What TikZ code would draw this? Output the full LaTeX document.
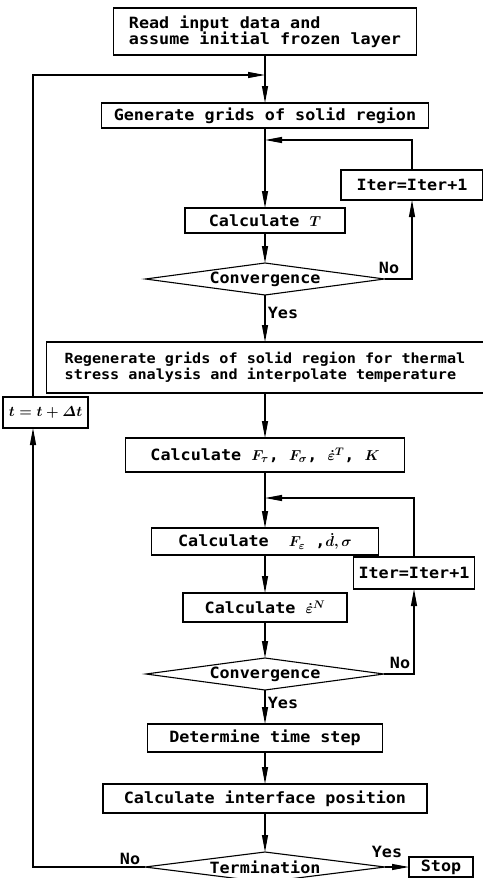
\documentclass[tikz,border=0pt]{standalone}
\usepackage{amsmath}
\usepackage{fontspec}
\setmonofont{DejaVu Sans Mono}[FakeStretch=1.08]
\usetikzlibrary{shapes.geometric, arrows.meta, positioning}

\begin{document}
\begin{tikzpicture}[x=1pt, y=-1pt,
    box/.style={rectangle, draw, line width=1.1pt, inner sep=3pt, outer sep=0pt, text centered, font=\ttfamily\bfseries\fontsize{15.5}{16}\selectfont\boldmath},
    test/.style={diamond, draw, line width=1.1pt, aspect=7.5, inner sep=0pt, outer sep=0pt, font=\ttfamily\bfseries\fontsize{15.5}{16}\selectfont},
    arrow/.style={-{Stealth[length=17pt, width=6pt, inset=0pt]}, line width=1.1pt},
    lbl/.style={font=\ttfamily\bfseries\fontsize{15.5}{16}\selectfont}
]
    \useasboundingbox (0,0) rectangle (482,878);

    % Main column
    \node[box, minimum width=303pt, minimum height=47pt, align=left] (read) at (265,31.5) {Read input data and\\assume initial frozen layer};
    \node[box, minimum width=327pt, minimum height=25pt, below=48pt of read] (grids) {Generate grids of solid region};
    \node[box, minimum width=160pt, minimum height=25pt, below=80pt of grids] (calcT) {Calculate $T$};
    \node[test, minimum width=239pt, minimum height=32pt, below=30pt of calcT] (conv1) {Convergence};
    \node[box, minimum width=437pt, minimum height=51pt, align=left, font=\ttfamily\bfseries\fontsize{14}{16}\selectfont, below=47pt of conv1] (regen) {Regenerate grids of solid region for thermal\\stress analysis and interpolate temperature};
    \node[box, minimum width=279pt, minimum height=34pt, below=45pt of regen] (calcF) {Calculate $F_\tau$, $F_\sigma$, $\dot\varepsilon^{T}$, $K$};
    \node[box, minimum width=227pt, minimum height=27pt, below=56pt of calcF] (calcFe) {Calculate \ $F_\varepsilon$ ,$\dot d,\sigma$};
    \node[box, minimum width=164pt, minimum height=29pt, below=38pt of calcFe] (calcEn) {Calculate $\dot\varepsilon^{N}$};
    \node[test, minimum width=238pt, minimum height=32pt, below=36pt of calcEn] (conv2) {Convergence};
    \node[box, minimum width=235pt, minimum height=28pt, below=34pt of conv2] (tstep) {Determine time step};
    \node[box, minimum width=324pt, minimum height=29pt, below=32pt of tstep] (iface) {Calculate interface position};
    \node[test, minimum width=240pt, minimum height=30pt, below=39pt of iface] (term) {Termination};

    % Side boxes
    \node[box, minimum width=142pt, minimum height=30pt] (iter1) at (412,185) {Iter=Iter+1};
    \node[box, minimum width=121pt, minimum height=32pt] (iter2) at (414,573) {Iter=Iter+1};
    \node[box, minimum width=85pt, minimum height=31pt, inner sep=1pt] (tinc) at (45.5,412.5) {$t=t+\varDelta t$};
    \node[box, minimum width=64pt, minimum height=20pt, inner sep=1pt, right=24pt of term] (stop) {Stop};

    % Junctions
    \coordinate (j0) at (265,75);
    \coordinate (j1) at (265,140);
    \coordinate (j2) at (265,498);
    \coordinate (lx) at (33,0);

    % Main flow
    \draw[arrow] (read) -- (grids);
    \draw[arrow] (grids) -- (calcT);
    \draw[arrow] (calcT) -- (conv1);
    \draw[arrow] (conv1) -- (regen);
    \draw[arrow] (regen) -- (calcF);
    \draw[arrow] (calcF) -- (calcFe);
    \draw[arrow] (calcFe) -- (calcEn);
    \draw[arrow] (calcEn) -- (conv2);
    \draw[arrow] (conv2) -- (tstep);
    \draw[arrow] (tstep) -- (iface);
    \draw[arrow] (iface) -- (term);
    \draw[arrow] (term) -- (stop);

    % Iteration loops
    \draw[arrow] (conv1.east) -| (iter1);
    \draw[arrow] (iter1) |- (j1);
    \draw[arrow] (conv2.east) -| (iter2);
    \draw[arrow] (iter2) |- (j2);

    % Time loop
    \draw[arrow] (term.west) -| (tinc.south -| lx);
    \draw[arrow] (tinc.north -| lx) |- (j0);

    % Labels
    \node[lbl] (no1) at (389,268) {No};
    \node[lbl] (yes1) at (283,313) {Yes};
    \node[lbl] (no2) at (400,663) {No};
    \node[lbl] (yes2) at (283,703) {Yes};
    \node[lbl] (no3) at (130,859) {No};
    \node[lbl] (yes3) at (387,852) {Yes};
\end{tikzpicture}
\end{document}
